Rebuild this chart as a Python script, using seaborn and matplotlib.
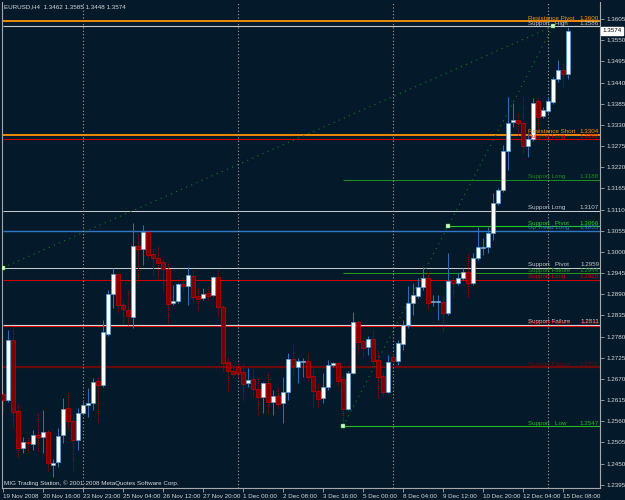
import numpy as np
import pandas as pd
import matplotlib
matplotlib.use('Agg')
import matplotlib.pyplot as plt
import matplotlib.transforms as mtransforms
import seaborn as sns

# EURUSD H4 bars, 19 Nov 2008 .. 15 Dec 2008
opens = [1.2630, 1.2614, 1.2770, 1.2586, 1.2490, 1.2505, 1.2500, 1.2523, 1.2518, 1.2531,
         1.2445, 1.2453, 1.2523, 1.2594, 1.2560, 1.2510, 1.2581, 1.2601, 1.2607, 1.2664,
         1.2653, 1.2786, 1.2890, 1.2942, 1.2861, 1.2848, 1.2830, 1.3015, 1.3007, 1.3051,
         1.2994, 1.2984, 1.2973, 1.2955, 1.2867, 1.2872, 1.2916, 1.2911, 1.2937, 1.2885,
         1.2880, 1.2893, 1.2887, 1.2934, 1.2856, 1.2713, 1.2690, 1.2700, 1.2687, 1.2659,
         1.2669, 1.2643, 1.2622, 1.2659, 1.2609, 1.2625, 1.2607, 1.2635, 1.2721, 1.2700,
         1.2713, 1.2716, 1.2677, 1.2638, 1.2620, 1.2648, 1.2705, 1.2711, 1.2669, 1.2591,
         1.2685, 1.2817, 1.2768, 1.2752, 1.2773, 1.2718, 1.2677, 1.2635, 1.2726, 1.2716,
         1.2760, 1.2809, 1.2867, 1.2885, 1.2908, 1.2932, 1.2869, 1.2869, 1.2869, 1.2841,
         1.2926, 1.2919, 1.2932, 1.2947, 1.2919, 1.2984, 1.3010, 1.3012, 1.3049, 1.3127,
         1.3160, 1.3262, 1.3337, 1.3342, 1.3335, 1.3275, 1.3293, 1.3392, 1.3353, 1.3366,
         1.3389, 1.3449, 1.3472, 1.3462]
highs = [1.2640, 1.2796, 1.2807, 1.2604, 1.2518, 1.2518, 1.2536, 1.2581, 1.2588, 1.2536,
         1.2461, 1.2542, 1.2620, 1.2633, 1.2578, 1.2594, 1.2614, 1.2646, 1.2672, 1.2674,
         1.2822, 1.2900, 1.2958, 1.2947, 1.2874, 1.2900, 1.3075, 1.3049, 1.3069, 1.3056,
         1.3010, 1.3017, 1.2981, 1.2973, 1.2913, 1.2919, 1.2934, 1.2960, 1.2952, 1.2906,
         1.2906, 1.2908, 1.2937, 1.2952, 1.2861, 1.2726, 1.2705, 1.2711, 1.2708, 1.2698,
         1.2698, 1.2672, 1.2661, 1.2685, 1.2640, 1.2646, 1.2674, 1.2737, 1.2760, 1.2724,
         1.2724, 1.2737, 1.2703, 1.2659, 1.2685, 1.2718, 1.2713, 1.2713, 1.2677, 1.2690,
         1.2843, 1.2822, 1.2776, 1.2781, 1.2796, 1.2744, 1.2687, 1.2731, 1.2737, 1.2770,
         1.2822, 1.2911, 1.2919, 1.2932, 1.2960, 1.2947, 1.2887, 1.2887, 1.2887, 1.2997,
         1.2934, 1.2945, 1.2958, 1.2997, 1.2997, 1.3064, 1.3036, 1.3064, 1.3153, 1.3166,
         1.3277, 1.3402, 1.3387, 1.3361, 1.3402, 1.3309, 1.3400, 1.3400, 1.3376, 1.3402,
         1.3454, 1.3498, 1.3491, 1.3585]
lows = [1.2586, 1.2609, 1.2547, 1.2466, 1.2477, 1.2477, 1.2484, 1.2482, 1.2477, 1.2430,
        1.2414, 1.2440, 1.2503, 1.2539, 1.2430, 1.2484, 1.2578, 1.2570, 1.2588, 1.2557,
        1.2648, 1.2781, 1.2854, 1.2843, 1.2815, 1.2809, 1.2802, 1.2919, 1.2965, 1.2984,
        1.2939, 1.2926, 1.2900, 1.2815, 1.2861, 1.2867, 1.2898, 1.2861, 1.2867, 1.2848,
        1.2874, 1.2874, 1.2885, 1.2830, 1.2690, 1.2638, 1.2674, 1.2674, 1.2614, 1.2648,
        1.2622, 1.2575, 1.2581, 1.2581, 1.2575, 1.2594, 1.2555, 1.2614, 1.2677, 1.2659,
        1.2674, 1.2664, 1.2596, 1.2596, 1.2607, 1.2640, 1.2700, 1.2653, 1.2547, 1.2588,
        1.2682, 1.2737, 1.2726, 1.2731, 1.2708, 1.2622, 1.2625, 1.2633, 1.2711, 1.2705,
        1.2744, 1.2802, 1.2835, 1.2880, 1.2900, 1.2851, 1.2859, 1.2822, 1.2794, 1.2835,
        1.2882, 1.2913, 1.2926, 1.2882, 1.2913, 1.2978, 1.2991, 1.2997, 1.3030, 1.3121,
        1.3155, 1.3212, 1.3324, 1.3303, 1.3257, 1.3246, 1.3288, 1.3311, 1.3348, 1.3361,
        1.3384, 1.3441, 1.3428, 1.3448]
closes = [1.2614, 1.2770, 1.2583, 1.2490, 1.2505, 1.2503, 1.2523, 1.2518, 1.2531, 1.2451,
          1.2451, 1.2521, 1.2591, 1.2560, 1.2510, 1.2581, 1.2601, 1.2607, 1.2661, 1.2653,
          1.2791, 1.2890, 1.2942, 1.2861, 1.2851, 1.2833, 1.3015, 1.3007, 1.3051, 1.2991,
          1.2984, 1.2971, 1.2955, 1.2864, 1.2872, 1.2916, 1.2911, 1.2939, 1.2882, 1.2877,
          1.2890, 1.2885, 1.2934, 1.2856, 1.2711, 1.2690, 1.2682, 1.2685, 1.2656, 1.2666,
          1.2643, 1.2622, 1.2659, 1.2609, 1.2625, 1.2604, 1.2635, 1.2721, 1.2703, 1.2716,
          1.2716, 1.2674, 1.2638, 1.2617, 1.2648, 1.2705, 1.2711, 1.2664, 1.2591, 1.2685,
          1.2817, 1.2765, 1.2750, 1.2773, 1.2716, 1.2674, 1.2635, 1.2713, 1.2716, 1.2763,
          1.2809, 1.2867, 1.2887, 1.2908, 1.2932, 1.2867, 1.2872, 1.2872, 1.2841, 1.2924,
          1.2919, 1.2932, 1.2947, 1.2919, 1.2984, 1.3012, 1.3012, 1.3049, 1.3127, 1.3160,
          1.3262, 1.3335, 1.3342, 1.3335, 1.3275, 1.3293, 1.3387, 1.3350, 1.3368, 1.3392,
          1.3449, 1.3472, 1.3462, 1.3574]

# level lines drawn by the indicator
level_names = ['Resistance Pivot', 'Support   High', 'Resistance Short', 'Support Long',
               'Support Long', 'Support Long', 'Support   Pivot', 'Up Trend Long',
               'Support   Pivot', 'Support Failure', 'Support Long', 'Support Failure',
               'Support Failure', 'Support Failure', 'Support   Low']
level_values = [1.3600, 1.3586, 1.3304, 1.3292, 1.3188, 1.3107, 1.3066, 1.3055,
                1.2959, 1.2944, 1.2928, 1.2811, 1.2808, 1.2700, 1.2547]
level_text = ['1.3600', '1.3586', '1.3304', '1.3292', '1.3188', '1.3107', '1.3066', '1.3055',
              '1.2959', '1.2944', '1.2928', '1.2811', '1.2811', '1.2700', '1.2547']
level_colors = ['#ff9400', '#c8c8c8', '#ff9400', '#d40000', '#1f8a1f', '#c8c8c8', '#22cc22',
                '#2f78c8', '#c8c8c8', '#1f9a1f', '#d40000', '#d8d8d8', '#d40000', '#6a0a0a',
                '#22bb22']
level_start = [0, 0, 0, 0, 68, 0, 89, 0, 0, 68, 0, 0, 0, 0, 68]
level_width = [1.3, 0.8, 1.3, 0.75, 0.75, 0.75, 0.8, 1.0, 0.75, 0.75, 0.75, 0.8, 0.75, 1.6, 0.8]

# dotted trend lines (bar, price)
trend_id = ['a', 'a', 'b', 'b']
trend_bar = [0, 110, 68, 110]
trend_price = [1.2959, 1.3586, 1.2547, 1.3586]
marker_bar = [0, 68, 89, 110]
marker_price = [1.2959, 1.2547, 1.3066, 1.3586]

separator_bars = [16, 47, 78, 109]
xtick_bars = [0, 8, 16, 24, 32, 40, 48, 56, 64, 72, 80, 88, 96, 104, 112]
xtick_labels = ['19 Nov 2008', '20 Nov 16:00', '23 Nov 23:00', '25 Nov 04:00', '26 Nov 12:00',
                '27 Nov 20:00', '1 Dec 00:00', '2 Dec 08:00', '3 Dec 16:00', '5 Dec 00:00',
                '8 Dec 04:00', '9 Dec 12:00', '10 Dec 20:00', '12 Dec 04:00', '15 Dec 08:00']
ytick_labels = ['1.2395', '1.2450', '1.2505', '1.2560', '1.2615', '1.2670', '1.2725', '1.2780',
                '1.2835', '1.2890', '1.2945', '1.3000', '1.3055', '1.3110', '1.3165', '1.3220',
                '1.3275', '1.3330', '1.3385', '1.3440', '1.3495', '1.3550', '1.3605']

BG = '#041a2b'
FG = '#d8d8d8'
sns.set_theme(style='dark', rc={'axes.facecolor': BG, 'figure.facecolor': BG,
                                'axes.edgecolor': '#a8a8a8', 'axes.linewidth': 0.8,
                                'xtick.color': '#a8a8a8', 'ytick.color': '#a8a8a8'})
plt.rcParams['font.family'] = ['Liberation Sans Narrow', 'Liberation Sans', 'DejaVu Sans']
FS = 4.5

fig = plt.figure(figsize=(6.25, 5), dpi=100)
ax = fig.add_axes([2 / 625, 12 / 500, 598 / 625, 486 / 500])

x = np.arange(len(opens))
o = np.array(opens)
h = np.array(highs)
l = np.array(lows)
c = np.array(closes)
up = c >= o

# level lines + labels
for name, val, txt, col, st, lw in zip(level_names, level_values, level_text,
                                        level_colors, level_start, level_width):
    ax.hlines(val, st, 130, color=col, lw=lw, zorder=1)
    ax.text(105.1, val + 0.0001, name, color=col, fontsize=FS, ha='left', va='bottom', zorder=6)
    ax.text(119.2, val + 0.0001, txt, color=col, fontsize=FS, ha='right', va='bottom', zorder=6)

# period separators
for b in separator_bars:
    ax.axvline(b, color='#b09a8a', lw=0.8, ls=(0, (1, 2)), zorder=2)

# trend lines
trend = pd.DataFrame({'id': trend_id, 'bar': trend_bar, 'price': trend_price})
sns.lineplot(data=trend, x='bar', y='price', units='id', estimator=None, color='#137a13',
             lw=0.8, ls=(0, (1, 4)), ax=ax, zorder=2)
sns.scatterplot(x=marker_bar, y=marker_price, marker='s', s=5, color='#d8f5d0',
                edgecolor='#22bb22', linewidth=0.3, ax=ax, zorder=7)

# candles
ax.vlines(x[up], l[up], h[up], color='#2a6db5', lw=0.75, zorder=3)
ax.vlines(x[~up], l[~up], h[~up], color='#b00000', lw=0.75, linestyles=(0, (1, 1)), zorder=3)
body_bot = np.minimum(o, c)
body_h = np.maximum(np.abs(c - o), 0.00012)
ax.bar(x[up], body_h[up], bottom=body_bot[up], width=0.62, color='white',
       edgecolor='#5b9bd5', linewidth=0.5, zorder=4)
ax.bar(x[~up], body_h[~up], bottom=body_bot[~up], width=0.62, color='#7a0000',
       edgecolor='#d00000', linewidth=0.5, zorder=4)

ax.set_xlim(-0.2, 119.4)
ax.set_ylim(1.23865, 1.36492)

ax.yaxis.tick_right()
ax.set_yticks([float(t) for t in ytick_labels])
ax.set_yticklabels(ytick_labels)
ax.set_xticks(xtick_bars)
ax.set_xticklabels(xtick_labels, ha='left')
ax.tick_params(axis='both', length=3, width=0.6, labelsize=FS, labelcolor=FG, pad=1.5)
ax.tick_params(axis='y', which='both', right=True, left=False)
ax.tick_params(axis='x', bottom=True)
ax.spines['top'].set_visible(False)
ax.grid(False)
ax.set_xlabel('')
ax.set_ylabel('')

# header / footer / current price
ax.text(0.004, 0.995, 'EURUSD,H4  1.3462 1.3585 1.3448 1.3574', transform=ax.transAxes,
        color=FG, fontsize=FS, ha='left', va='top')
ax.text(0.004, 0.004, 'MIG Trading Station, \u00a9 2001-2008 MetaQuotes Software Corp.',
        transform=ax.transAxes, color=FG, fontsize=FS, ha='left', va='bottom')
tr = mtransforms.blended_transform_factory(ax.transAxes, ax.transData)
ax.text(1.004, closes[-1], '1.3574', transform=tr, color='black', fontsize=FS, ha='left',
        va='center', bbox=dict(fc='white', ec='white', pad=0.8), zorder=8, clip_on=False)

fig.savefig('out.png', dpi=100, facecolor=BG)
